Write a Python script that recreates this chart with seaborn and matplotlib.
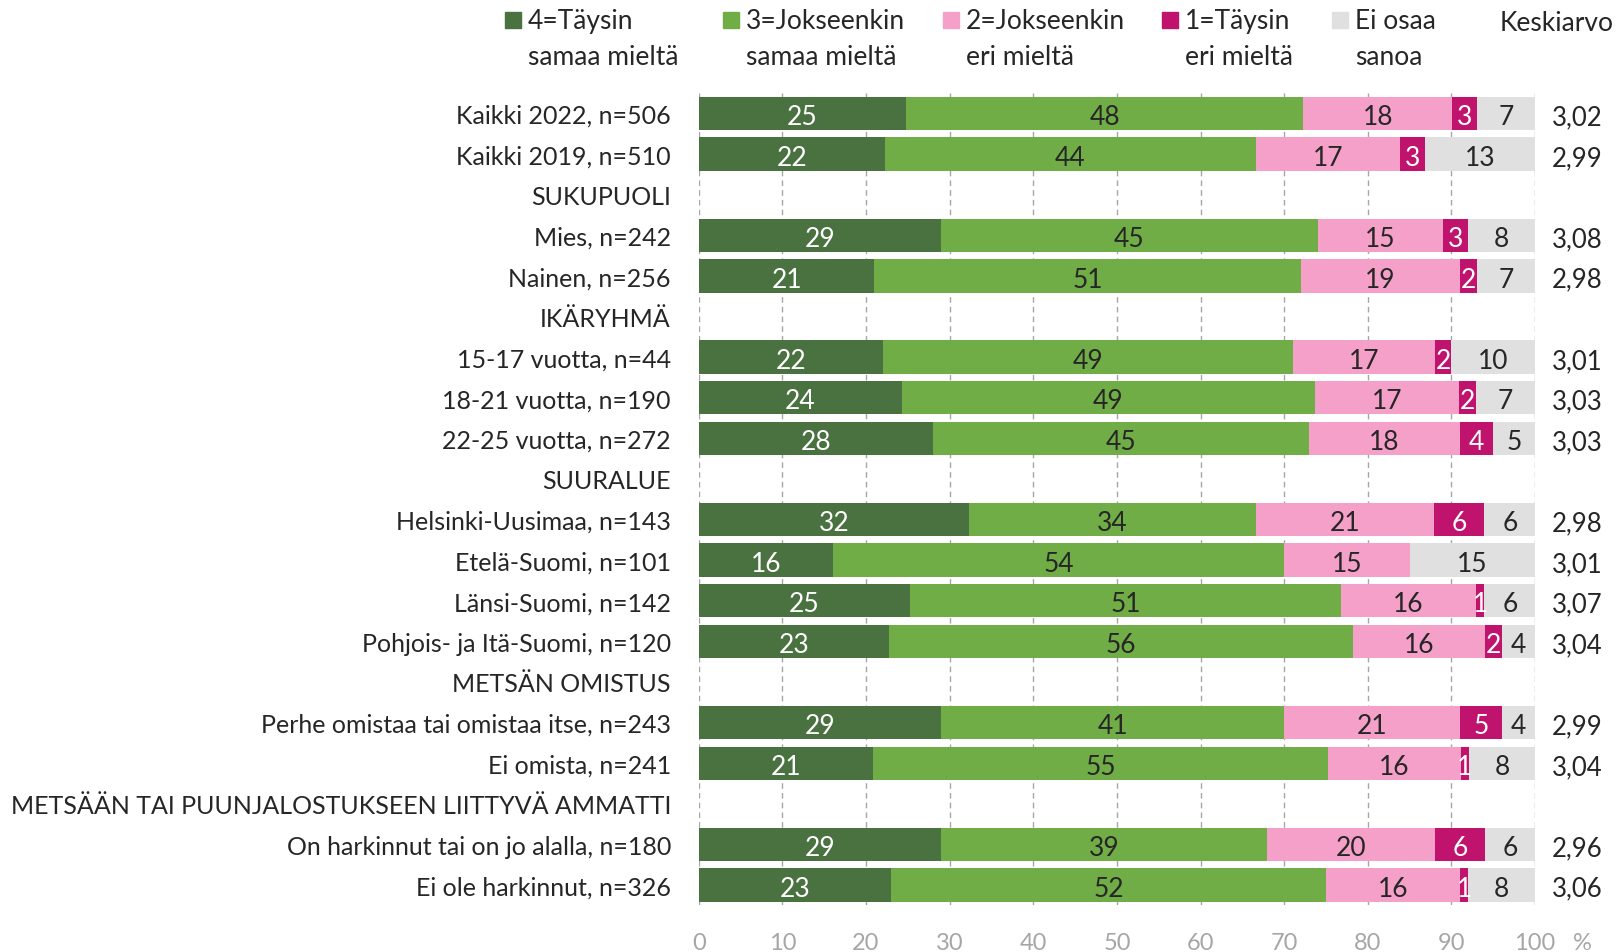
import numpy as np
import pandas as pd
import matplotlib
matplotlib.use("Agg")
import matplotlib.pyplot as plt
from matplotlib.patches import Rectangle
import seaborn as sns

# Rivit (otsikkorivit ilman palkkeja)
rivit = [
    "Kaikki 2022, n=506", "Kaikki 2019, n=510", "SUKUPUOLI",
    "Mies, n=242", "Nainen, n=256", "IKÄRYHMÄ",
    "15-17 vuotta, n=44", "18-21 vuotta, n=190", "22-25 vuotta, n=272",
    "SUURALUE", "Helsinki-Uusimaa, n=143", "Etelä-Suomi, n=101",
    "Länsi-Suomi, n=142", "Pohjois- ja Itä-Suomi, n=120",
    "METSÄN OMISTUS", "Perhe omistaa tai omistaa itse, n=243", "Ei omista, n=241",
    "METSÄÄN TAI PUUNJALOSTUKSEEN LIITTYVÄ AMMATTI",
    "On harkinnut tai on jo alalla, n=180", "Ei ole harkinnut, n=326",
]
otsikot = ["SUKUPUOLI", "IKÄRYHMÄ", "SUURALUE", "METSÄN OMISTUS",
           "METSÄÄN TAI PUUNJALOSTUKSEEN LIITTYVÄ AMMATTI"]
ryhmat = [r for r in rivit if r not in otsikot]

taysin_samaa = [25, 22, 29, 21, 22, 24, 28, 32, 16, 25, 23, 29, 21, 29, 23]
jokseenkin_samaa = [48, 44, 45, 51, 49, 49, 45, 34, 54, 51, 56, 41, 55, 39, 52]
jokseenkin_eri = [18, 17, 15, 19, 17, 17, 18, 21, 15, 16, 16, 21, 16, 20, 16]
taysin_eri = [3, 3, 3, 2, 2, 2, 4, 6, 0, 1, 2, 5, 1, 6, 1]
ei_osaa = [7, 13, 8, 7, 10, 7, 5, 6, 15, 6, 4, 4, 8, 6, 8]
keskiarvo = ["3,02", "2,99", "3,08", "2,98", "3,01", "3,03", "3,03", "2,98",
             "3,01", "3,07", "3,04", "2,99", "3,04", "2,96", "3,06"]

sarjat = ["4=Täysin\nsamaa mieltä", "3=Jokseenkin\nsamaa mieltä",
          "2=Jokseenkin\neri mieltä", "1=Täysin\neri mieltä", "Ei osaa\nsanoa"]
varit = ["#4A7140", "#70AD47", "#F4A0C8", "#C0136D", "#E0E0E0"]
tekstivarit = ["white", "#262626", "#262626", "white", "#262626"]

df = pd.DataFrame({
    "rivi": ryhmat,
    sarjat[0]: taysin_samaa,
    sarjat[1]: jokseenkin_samaa,
    sarjat[2]: jokseenkin_eri,
    sarjat[3]: taysin_eri,
    sarjat[4]: ei_osaa,
})
# pyöristetyt luvut skaalataan 100 %:iin palkkeja varten
osuudet = df[sarjat].div(df[sarjat].sum(axis=1), axis=0) * 100
kumul = osuudet.cumsum(axis=1)

sns.set_theme(style="white")
plt.rcParams["font.family"] = ["Lato", "DejaVu Sans"]

fig = plt.figure(figsize=(16.19, 9.53), dpi=100)
ax = fig.add_axes([0.4316, 0.049, 0.5166, 0.8522])

for x in range(0, 101, 10):
    ax.axvline(x, color="#A6A6A6", lw=1, ls=(0, (4, 3)), zorder=0)

# kumulatiiviset palkit takaperin, lyhin päällimmäiseksi
for i in range(len(sarjat) - 1, -1, -1):
    plot_df = pd.DataFrame({"rivi": df["rivi"], "x": kumul[sarjat[i]]})
    sns.barplot(data=plot_df, x="x", y="rivi", order=rivit, color=varit[i],
                width=0.82, orient="h", saturation=1, ax=ax, zorder=2,
                edgecolor="none")

ypos = {r: k for k, r in enumerate(rivit)}
for j, r in enumerate(df["rivi"]):
    y = ypos[r] + 0.08  # numerot hieman alaspäin, kuten Excelissä
    for i, s in enumerate(sarjat):
        v = df.loc[j, s]
        if v <= 0:
            continue
        vasen = kumul.loc[j, s] - osuudet.loc[j, s]
        ax.text(vasen + osuudet.loc[j, s] / 2, y, str(v), ha="center",
                va="center", fontsize=19, color=tekstivarit[i], zorder=3)
    ax.text(102.0, y, keskiarvo[j], ha="left", va="center", fontsize=18.5,
            color="#262626", clip_on=False)

ax.set_xlim(0, 100)
ax.set_ylim(len(rivit) - 0.5, -0.5)
ax.set_xticks(range(0, 101, 10))
ax.set_xlabel("")
ax.set_ylabel("")
ax.tick_params(axis="y", length=0, pad=20, labelsize=18, labelcolor="#262626")
ax.tick_params(axis="x", length=0, pad=19.5, labelsize=17, labelcolor="#A6A6A6")
for sp in ax.spines.values():
    sp.set_visible(False)
ax.annotate("%", xy=(105.6, 0), xycoords=("data", "axes fraction"),
            xytext=(0, -19.5), textcoords="offset points", ha="center",
            va="top", fontsize=17, color="#A6A6A6", annotation_clip=False)

# selite (kaksirivinen teksti, tasattu alemman rivin perusviivaan)
selite_x = [0.3119, 0.4466, 0.5825, 0.7177, 0.8227]
for k, s in enumerate(sarjat):
    fig.patches.append(Rectangle((selite_x[k], 0.9693), 0.0099, 0.0168,
                                 transform=fig.transFigure, color=varit[k]))
    fig.text(selite_x[k] + 0.0142, 0.9318, s, ha="left", va="baseline",
             fontsize=19, color="#262626", linespacing=1.57)
fig.text(0.926, 0.9675, "Keskiarvo", ha="left", va="baseline", fontsize=19,
         color="#262626")

fig.savefig("out.png", dpi=100)
